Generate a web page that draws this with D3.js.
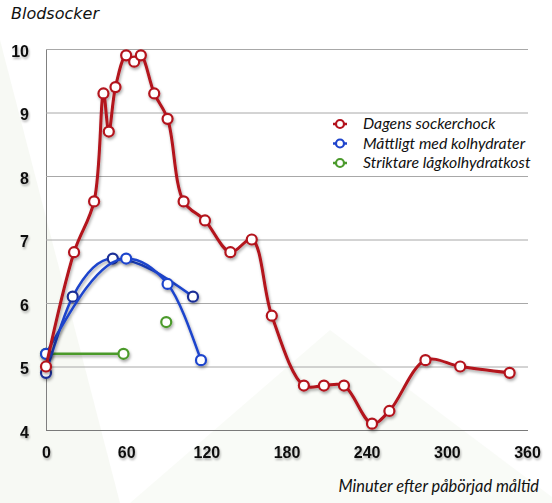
<!DOCTYPE html>
<html>
<head>
<meta charset="utf-8">
<script src="https://cdn.jsdelivr.net/npm/d3@7"></script>
<style>
  body { margin: 0; background: #ffffff; }
  svg { display: block; }
</style>
</head>
<body>
<svg width="552" height="503"></svg>
<script>
// data
const xTicks = [0, 60, 120, 180, 240, 300, 360]
const yTicks = [4, 5, 6, 7, 8, 9, 10]

const sugarTimes  = [0, 21, 36, 43, 47, 52, 60, 66, 71, 81, 91, 103, 119, 138, 154, 169, 193, 208, 223, 244, 257, 284, 310, 347]
const sugarValues = [5.0, 6.8, 7.6, 9.3, 8.7, 9.4, 9.9, 9.8, 9.9, 9.3, 8.9, 7.6, 7.3, 6.8, 7.0, 5.8, 4.7, 4.7, 4.7, 4.1, 4.3, 5.1, 5.0, 4.9]

const moderateATimes  = [0, 20, 50, 110]
const moderateAValues = [4.9, 6.1, 6.7, 6.1]
const moderateBTimes  = [0, 60, 91, 116]
const moderateBValues = [5.2, 6.7, 6.3, 5.1]

const strictTimes  = [0, 58, 75, 90]
const strictValues = [5.2, 5.2, null, 5.7]

const legendLabels = ["Dagens sockerchock", "Måttligt med kolhydrater", "Striktare lågkolhydratkost"]

const RED = "#b3121c", BLUE = "#1f44cc", NAVY = "#1a2f96", GREEN = "#4b9a2c"

const svg = d3.select("svg")
const plotL = 46, plotR = 527, plotT = 49, plotB = 430

const defs = svg.append("defs")
const sh = defs.append("filter").attr("id", "shadow")
    .attr("x", "-20%").attr("y", "-20%").attr("width", "140%").attr("height", "140%")
sh.append("feDropShadow").attr("dx", 1).attr("dy", 2).attr("stdDeviation", 1.4)
    .attr("flood-color", "#000").attr("flood-opacity", 0.35)
const tsh = defs.append("filter").attr("id", "tshadow")
    .attr("x", "-20%").attr("y", "-30%").attr("width", "140%").attr("height", "160%")
tsh.append("feDropShadow").attr("dx", 1).attr("dy", 2).attr("stdDeviation", 1.2)
    .attr("flood-color", "#000").attr("flood-opacity", 0.3)

// faint theme backdrop
svg.append("polygon").attr("points", "0,40 0,503 120,503")
    .attr("fill", "#f5f8f1").attr("opacity", 0.8)
svg.append("polygon").attr("points", "130,503 330,330 560,503")
    .attr("fill", "#f8faf5").attr("opacity", 0.8)

const x = d3.scaleLinear().domain([0, 360]).range([plotL, plotR])
const y = d3.scaleLinear().domain([4, 10]).range([plotB, plotT])

// y axis with gridlines
const yAxis = svg.append("g")
    .attr("transform", `translate(${plotL},0)`)
    .call(d3.axisLeft(y).tickValues(yTicks).tickSize(-(plotR + 1 - plotL)).tickPadding(17).tickFormat(d3.format("d")))
yAxis.select(".domain").attr("stroke", "#808080")
yAxis.selectAll(".tick line").attr("stroke", d => d === 4 ? "#7a7a7a" : "#a8a8a8")
yAxis.selectAll(".tick text")
    .attr("dy", "0.45em")
    .attr("fill", "#111")
    .style("font", "bold 16px 'Liberation Sans', Arial, sans-serif")
    .attr("filter", "url(#tshadow)")

const xAxis = svg.append("g")
    .attr("transform", `translate(0,${plotB})`)
    .call(d3.axisBottom(x).tickValues(xTicks).tickSize(0).tickPadding(17))
xAxis.select(".domain").remove()
xAxis.selectAll(".tick text")
    .attr("fill", "#111")
    .style("font", "bold 16px 'Liberation Sans', Arial, sans-serif")
    .attr("filter", "url(#tshadow)")

svg.append("text").attr("x", 11).attr("y", 19)
    .style("font", "oblique 16px 'DejaVu Sans', sans-serif")
    .attr("fill", "#111")
    .text("Blodsocker")

svg.append("text").attr("x", 539).attr("y", 492).attr("text-anchor", "end")
    .style("font", "italic 16.4px Lato, 'Open Sans', sans-serif")
    .attr("fill", "#111")
    .text("Minuter efter påbörjad måltid")

function toPoints(times, values) {
    return times.map((t, i) => ({ t: t, v: values[i] }))
}

function drawSeries(times, values, color, curve, width, markerColor) {
    const pts = toPoints(times, values)
    const line = d3.line()
        .defined(d => d.v !== null)
        .x(d => x(d.t)).y(d => y(d.v))
        .curve(curve)
    const g = svg.append("g").attr("filter", "url(#shadow)")
    g.append("path").datum(pts)
        .attr("d", line)
        .attr("fill", "none")
        .attr("stroke", color)
        .attr("stroke-width", width)
        .attr("stroke-linejoin", "round")
    g.selectAll("circle").data(pts.filter(d => d.v !== null)).enter()
        .append("circle")
        .attr("cx", d => x(d.t)).attr("cy", d => y(d.v))
        .attr("r", 5)
        .attr("fill", "#fff")
        .attr("stroke", markerColor || color)
        .attr("stroke-width", 2.2)
}

drawSeries(strictTimes, strictValues, GREEN, d3.curveLinear, 2.5)
drawSeries(moderateATimes, moderateAValues, BLUE, d3.curveMonotoneX, 2.5, NAVY)
drawSeries(moderateBTimes, moderateBValues, BLUE, d3.curveMonotoneX, 2.5)
drawSeries(sugarTimes, sugarValues, RED, d3.curveCatmullRom.alpha(0.5), 3)

// legend
const legendColors = [RED, BLUE, GREEN]
const lg = svg.append("g")
legendLabels.forEach((label, i) => {
    const ly = 124 + i * 19.5
    lg.append("line").attr("x1", 333).attr("x2", 347).attr("y1", ly).attr("y2", ly)
        .attr("stroke", legendColors[i]).attr("stroke-width", 2.5)
    lg.append("circle").attr("cx", 340).attr("cy", ly).attr("r", 4)
        .attr("fill", "#fff").attr("stroke", legendColors[i]).attr("stroke-width", 2.2)
    lg.append("text").attr("x", 363).attr("y", ly + 5)
        .style("font", "italic 15.8px Lato, 'Open Sans', sans-serif")
        .attr("fill", "#111")
        .text(label)
})
</script>
</body>
</html>
